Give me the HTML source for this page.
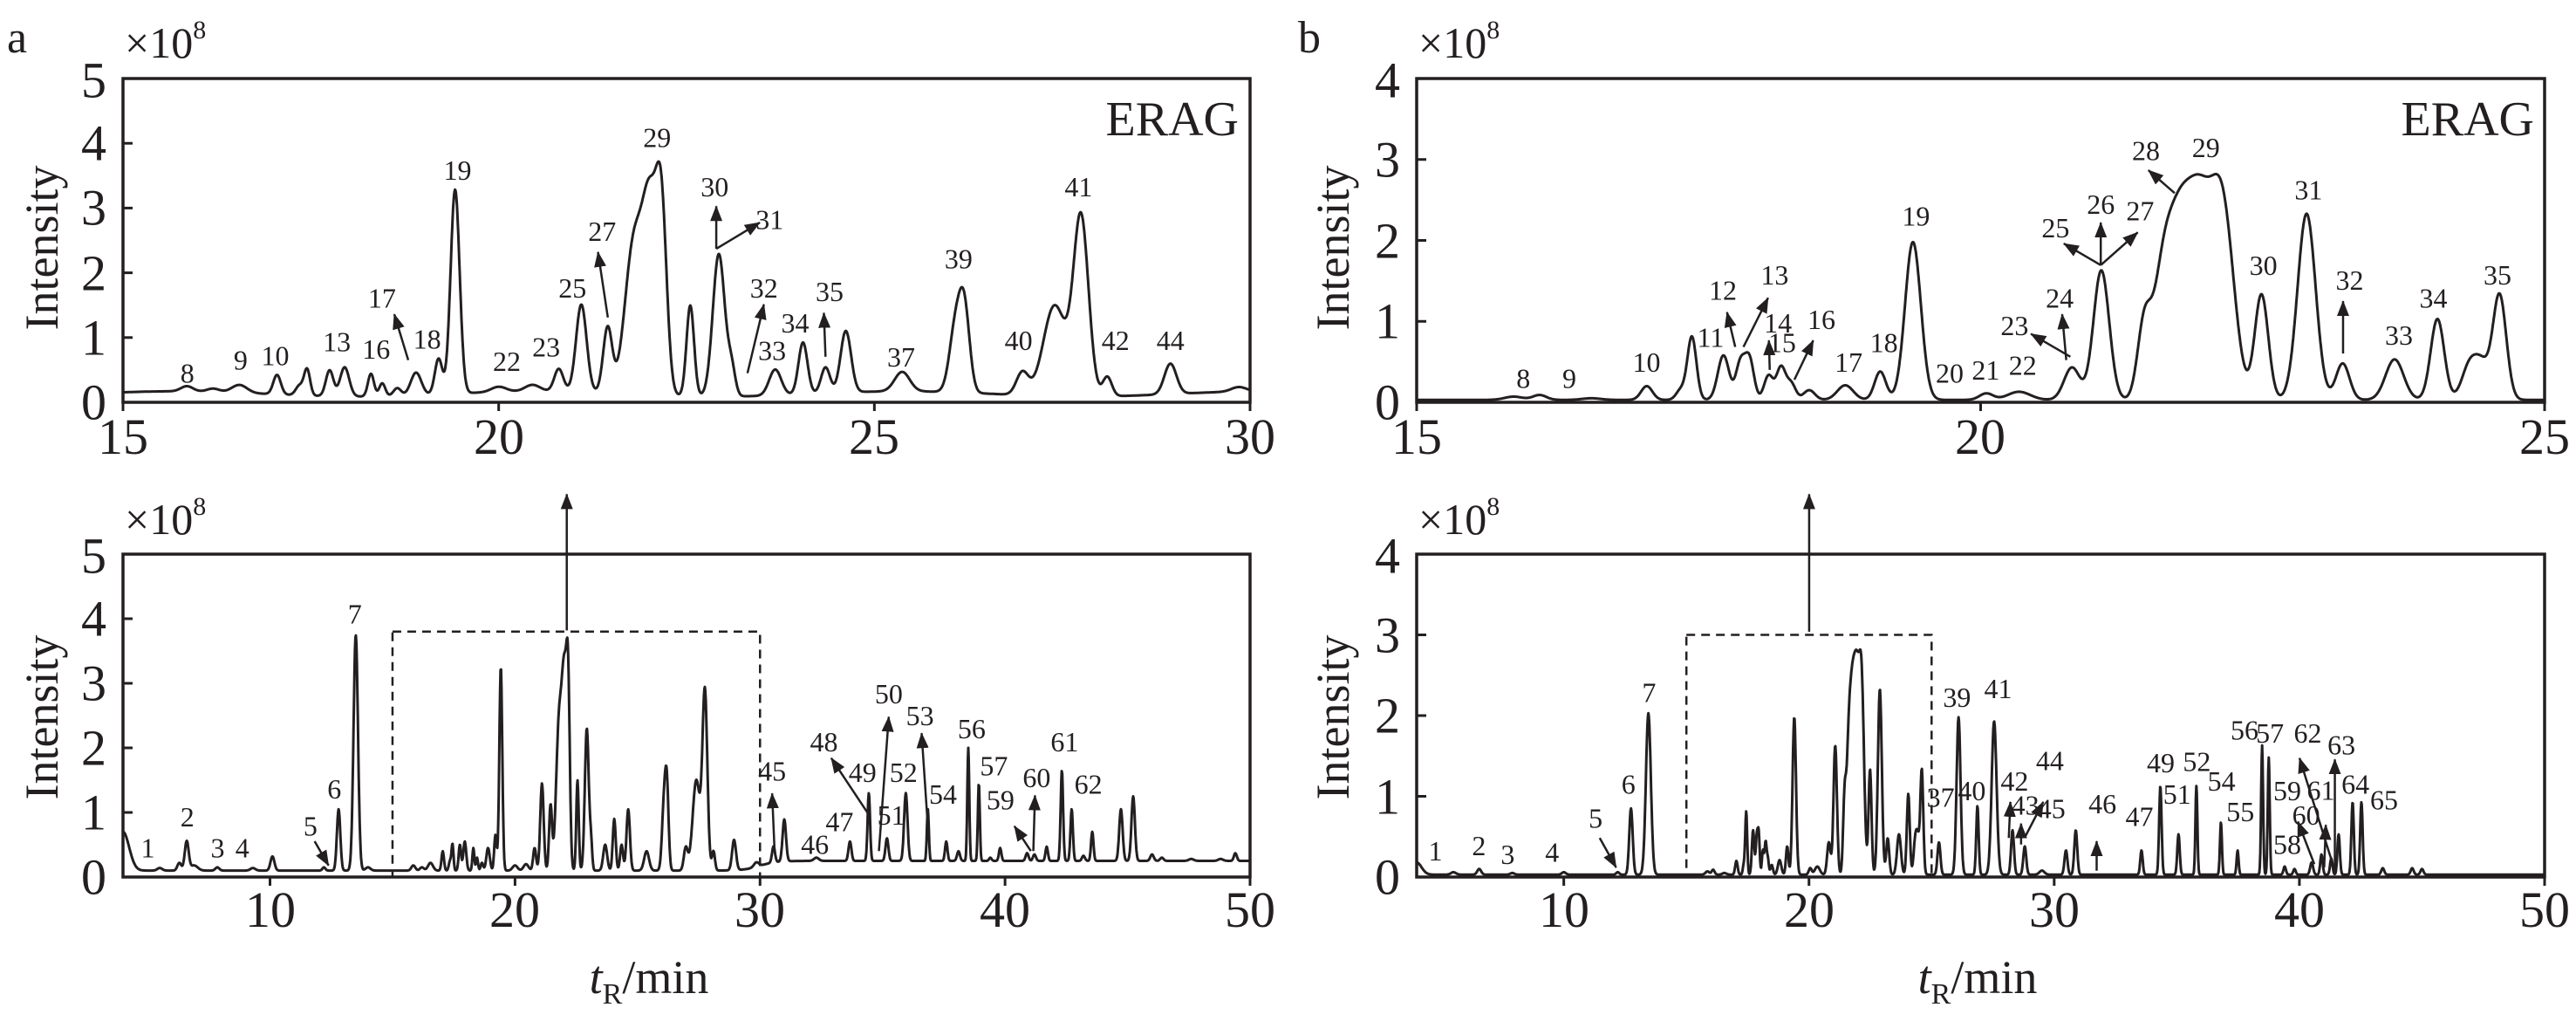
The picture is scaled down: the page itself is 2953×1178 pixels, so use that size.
<!DOCTYPE html>
<html><head><meta charset="utf-8"><style>
html,body{margin:0;padding:0;background:#fff}
svg{display:block}
text{font-family:"Liberation Serif",serif;fill:#231f20}
.tk{font-size:58px}
.pl,.pb{font-size:32px;text-anchor:middle;dominant-baseline:central}
</style></head><body>
<svg id="s" width="2953" height="1178" viewBox="0 0 2953 1178" xmlns="http://www.w3.org/2000/svg">
<defs>
<marker id="ah2" markerWidth="18" markerHeight="14" refX="17" refY="7" orient="auto" markerUnits="userSpaceOnUse" viewBox="0 0 18 14"><path d="M0,0 L18,7 L0,14 z" fill="#231f20"/></marker></defs>
<g id="g"></g>
<text x="8" y="60" style="font-size:52px">a</text>
<text x="1488" y="60" style="font-size:52px">b</text>
<text x="143" y="66" style="font-size:50px">×10<tspan dy="-22" style="font-size:30px">8</tspan></text>
<text x="143" y="612" style="font-size:50px">×10<tspan dy="-22" style="font-size:30px">8</tspan></text>
<text x="1626" y="66" style="font-size:50px">×10<tspan dy="-22" style="font-size:30px">8</tspan></text>
<text x="1626" y="612" style="font-size:50px">×10<tspan dy="-22" style="font-size:30px">8</tspan></text>
<text transform="translate(66,284) rotate(-90)" text-anchor="middle" style="font-size:54px">Intensity</text>
<text transform="translate(66,822) rotate(-90)" text-anchor="middle" style="font-size:54px">Intensity</text>
<text transform="translate(1546,284) rotate(-90)" text-anchor="middle" style="font-size:54px">Intensity</text>
<text transform="translate(1546,822) rotate(-90)" text-anchor="middle" style="font-size:54px">Intensity</text>
<text x="1420" y="155" text-anchor="end" style="font-size:56px">ERAG</text>
<text x="2905" y="155" text-anchor="end" style="font-size:56px">ERAG</text>
<g class="tk" text-anchor="end" dominant-baseline="central">
<text x="122" y="461">0</text><text x="122" y="387">1</text><text x="122" y="313">2</text><text x="122" y="238">3</text><text x="122" y="164">4</text><text x="122" y="92">5</text>
<text x="122" y="1005">0</text><text x="122" y="931">1</text><text x="122" y="857">2</text><text x="122" y="783">3</text><text x="122" y="709">4</text><text x="122" y="637">5</text>
<text x="1605" y="461">0</text><text x="1605" y="368">1</text><text x="1605" y="276">2</text><text x="1605" y="183">3</text><text x="1605" y="92">4</text>
<text x="1605" y="1005">0</text><text x="1605" y="913">1</text><text x="1605" y="820">2</text><text x="1605" y="728">3</text><text x="1605" y="637">4</text>
</g>
<g class="tk" text-anchor="middle">
<text x="141" y="520">15</text><text x="572" y="520">20</text><text x="1002" y="520">25</text><text x="1433" y="520">30</text>
<text x="310" y="1062">10</text><text x="590" y="1062">20</text><text x="871" y="1062">30</text><text x="1152" y="1062">40</text><text x="1433" y="1062">50</text>
<text x="1624" y="520">15</text><text x="2270" y="520">20</text><text x="2917" y="520">25</text>
<text x="1793" y="1062">10</text><text x="2074" y="1062">20</text><text x="2355" y="1062">30</text><text x="2636" y="1062">40</text><text x="2917" y="1062">50</text>
</g>
<text x="744" y="1138" text-anchor="middle" style="font-size:54px"><tspan font-style="italic">t</tspan><tspan dy="12" style="font-size:34px">R</tspan><tspan dy="-12">/min</tspan></text>
<text x="2267" y="1138" text-anchor="middle" style="font-size:54px"><tspan font-style="italic">t</tspan><tspan dy="12" style="font-size:34px">R</tspan><tspan dy="-12">/min</tspan></text>

<g id="la">
<text class="pl" x="228" y="570">8</text><text class="pl" x="293" y="550">9</text><text class="pl" x="335" y="543">10</text><text class="pl" x="410" y="522">13</text><text class="pl" x="458" y="533">16</text><text class="pl" x="465" y="455">17</text><text class="pl" x="520" y="518">18</text><text class="pl" x="557" y="260">19</text><text class="pl" x="617" y="552">22</text><text class="pl" x="665" y="530">23</text><text class="pl" x="697" y="440">25</text><text class="pl" x="733" y="353">27</text><text class="pl" x="800" y="210">29</text><text class="pl" x="870" y="285">30</text><text class="pl" x="937" y="335">31</text><text class="pl" x="930" y="440">32</text><text class="pl" x="940" y="535">33</text><text class="pl" x="968" y="493">34</text><text class="pl" x="1010" y="445">35</text><text class="pl" x="1097" y="545">37</text><text class="pl" x="1167" y="395">39</text><text class="pl" x="1240" y="520">40</text><text class="pl" x="1313" y="285">41</text><text class="pl" x="1358" y="520">42</text><text class="pl" x="1425" y="520">44</text>
<text class="pl" x="180" y="1295">1</text><text class="pl" x="228" y="1248">2</text><text class="pl" x="265" y="1295">3</text><text class="pl" x="295" y="1295">4</text><text class="pl" x="378" y="1262">5</text><text class="pl" x="407" y="1205">6</text><text class="pl" x="432" y="938">7</text><text class="pl" x="940" y="1178">45</text><text class="pl" x="992" y="1290">46</text><text class="pl" x="1022" y="1255">47</text><text class="pl" x="1003" y="1133">48</text><text class="pl" x="1050" y="1180">49</text><text class="pl" x="1082" y="1060">50</text><text class="pl" x="1085" y="1245">51</text><text class="pl" x="1100" y="1180">52</text><text class="pl" x="1120" y="1093">53</text><text class="pl" x="1148" y="1213">54</text><text class="pl" x="1183" y="1113">56</text><text class="pl" x="1210" y="1170">57</text><text class="pl" x="1218" y="1222">59</text><text class="pl" x="1262" y="1188">60</text><text class="pl" x="1296" y="1133">61</text><text class="pl" x="1325" y="1198">62</text>
</g>
<g id="lb">
<text class="pb" x="287" y="578">8</text><text class="pb" x="343" y="578">9</text><text class="pb" x="437" y="553">10</text><text class="pb" x="515" y="515">11</text><text class="pb" x="530" y="443">12</text><text class="pb" x="593" y="420">13</text><text class="pb" x="597" y="493">14</text><text class="pb" x="602" y="523">15</text><text class="pb" x="650" y="488">16</text><text class="pb" x="683" y="553">17</text><text class="pb" x="726" y="523">18</text><text class="pb" x="765" y="330">19</text><text class="pb" x="806" y="570">20</text><text class="pb" x="850" y="565">21</text><text class="pb" x="895" y="558">22</text><text class="pb" x="885" y="497">23</text><text class="pb" x="940" y="455">24</text><text class="pb" x="935" y="348">25</text><text class="pb" x="990" y="312">26</text><text class="pb" x="1038" y="322">27</text><text class="pb" x="1045" y="230">28</text><text class="pb" x="1118" y="225">29</text><text class="pb" x="1188" y="405">30</text><text class="pb" x="1243" y="290">31</text><text class="pb" x="1293" y="428">32</text><text class="pb" x="1353" y="512">33</text><text class="pb" x="1395" y="455">34</text><text class="pb" x="1473" y="420">35</text>
<text class="pb" x="180" y="1300">1</text><text class="pb" x="233" y="1292">2</text><text class="pb" x="268" y="1305">3</text><text class="pb" x="322" y="1302">4</text><text class="pb" x="375" y="1250">5</text><text class="pb" x="415" y="1198">6</text><text class="pb" x="440" y="1058">7</text><text class="pb" x="815" y="1065">39</text><text class="pb" x="865" y="1052">41</text><text class="pb" x="795" y="1218">37</text><text class="pb" x="833" y="1208">40</text><text class="pb" x="885" y="1193">42</text><text class="pb" x="898" y="1230">43</text><text class="pb" x="928" y="1162">44</text><text class="pb" x="930" y="1235">45</text><text class="pb" x="992" y="1228">46</text><text class="pb" x="1037" y="1247">47</text><text class="pb" x="1063" y="1165">49</text><text class="pb" x="1083" y="1213">51</text><text class="pb" x="1107" y="1163">52</text><text class="pb" x="1137" y="1193">54</text><text class="pb" x="1160" y="1240">55</text><text class="pb" x="1165" y="1115">56</text><text class="pb" x="1196" y="1120">57</text><text class="pb" x="1242" y="1120">62</text><text class="pb" x="1217" y="1290">58</text><text class="pb" x="1217" y="1208">59</text><text class="pb" x="1240" y="1245">60</text><text class="pb" x="1258" y="1207">61</text><text class="pb" x="1283" y="1138">63</text><text class="pb" x="1300" y="1198">64</text><text class="pb" x="1335" y="1222">65</text>
</g>
</svg>
<script>
(function(){
var NS="http://www.w3.org/2000/svg",g=document.getElementById('g');
function el(n,a){var e=document.createElementNS(NS,n);for(var k in a)e.setAttribute(k,a[k]);g.appendChild(e);return e;}
[].forEach.call(document.querySelectorAll('.pl'),function(t){t.setAttribute('x',(+t.getAttribute('x'))/1.062);t.setAttribute('y',(+t.getAttribute('y'))/1.333);});
[].forEach.call(document.querySelectorAll('.pb'),function(t){t.setAttribute('x',1476+(+t.getAttribute('x'))/1.062);t.setAttribute('y',(+t.getAttribute('y'))/1.333);});
var A=[[15.85,.08,.08],[16.2,.05,.08],[16.55,.12,.1],[17.05,.3,.05],[17.35,.15,.05],[17.45,.4,.04],[17.75,.4,.05],[17.95,.45,.06],[18.3,.35,.04],[18.45,.2,.04],[18.65,.12,.05],[18.9,.35,.07],[19.2,.55,.05],[19.42,3.15,.06],[20.0,.08,.1],[20.45,.1,.1],[20.8,.35,.06],[21.1,1.35,.07],[21.45,1.0,.06],[21.8,2.3,.12],[22.02,2.7,.1],[22.17,2.45,.07],[22.55,1.4,.05],[22.93,2.2,.08],[23.1,.4,.05],[23.68,.4,.08],[24.05,.8,.06],[24.35,.4,.06],[24.62,.95,.07],[25.37,.3,.1],[26.08,1.0,.08],[26.2,1.2,.07],[26.97,.35,.08],[27.4,1.4,.15],[27.75,2.75,.1],[28.1,.3,.06],[28.94,.47,.08],[29.85,.07,.1]];
var Ax=[[4.0,.6,.25],[5.5,.04,.1],[6.3,.12,.08],[6.6,.45,.08],[6.9,.08,.15],[7.85,.05,.08],[9.3,.04,.1],[10.1,.22,.08],[12.2,.05,.06],[12.8,.95,.07],[13.5,3.65,.09],[14.0,.05,.1],[30.55,.25,.06],[30.99,.65,.07],[32.3,.05,.1],[33.67,.3,.06],[34.44,1.05,.05],[35.18,.35,.06],[35.95,1.05,.07],[36.85,.8,.04],[37.6,.3,.05],[38.1,.15,.06],[38.5,1.75,.04],[38.93,1.2,.04],[39.4,.05,.05],[39.8,.2,.05],[40.9,.12,.06],[41.2,.1,.06],[41.7,.22,.05],[42.32,1.4,.05],[42.72,.8,.05],[43.2,.08,.06],[43.56,.45,.05],[44.73,.8,.07],[45.23,1.0,.07],[46.0,.1,.07],[46.4,.05,.07],[47.6,.03,.1],[48.8,.03,.1],[49.4,.12,.06]];
var B=[[15.86,.04,.08],[16.09,.06,.06],[16.55,.02,.08],[17.04,.17,.05],[17.34,.12,.04],[17.44,.78,.04],[17.72,.55,.05],[17.87,.45,.04],[17.95,.5,.04],[18.12,.3,.04],[18.23,.4,.04],[18.32,.2,.04],[18.48,.12,.05],[18.8,.18,.07],[19.11,.35,.05],[19.4,1.95,.07],[20.05,.08,.06],[20.34,.1,.1],[20.81,.4,.07],[21.07,1.6,.07],[21.45,.9,.06],[21.6,1.0,.08],[21.75,2.0,.11],[21.95,2.1,.11],[22.15,2.2,.1],[22.49,1.3,.06],[22.89,2.3,.08],[23.21,.45,.06],[23.67,.5,.08],[24.05,1.0,.06],[24.34,.45,.07],[24.45,.35,.06],[24.6,1.3,.06]];
var Bx=[[4.0,.15,.2],[5.5,.03,.1],[6.55,.07,.08],[7.9,.02,.08],[10.0,.03,.08],[12.2,.03,.06],[12.74,.82,.07],[13.45,2.0,.1],[25.3,.4,.06],[26.1,1.95,.08],[26.87,.85,.05],[27.55,1.9,.1],[28.3,.55,.06],[28.8,.35,.06],[29.5,.05,.1],[30.48,.3,.06],[30.88,.55,.06],[33.56,.3,.05],[34.33,1.1,.05],[35.07,.5,.05],[35.8,1.1,.04],[36.8,.65,.04],[37.48,.3,.04],[38.48,1.6,.04],[38.75,1.45,.04],[39.4,.1,.05],[39.8,.07,.05],[40.5,.15,.06],[40.9,.25,.05],[41.3,.2,.05],[41.6,.5,.05],[42.17,.9,.05],[42.53,.9,.05],[43.4,.08,.06],[44.6,.08,.06],[45.0,.07,.06]];
function f(pk,t){var s=0;for(var i=0;i<pk.length;i++){var d=(t-pk[i][0])/pk[i][2];if(d*d<40)s+=pk[i][1]*Math.exp(-d*d/2);}return s;}
function panel(P){
  var X=function(t){return P.x0+(t-P.t0)/(P.t1-P.t0)*(P.x1-P.x0);},Y=function(v){return P.yz-v/P.vm*(P.yz-P.yt);};
  var d='',st=(P.t1-P.t0)/2400;
  for(var t=P.t0;t<=P.t1+1e-9;t+=st){var v=P.base(t)+f(P.pk,t);d+=(d?'L':'M')+X(t).toFixed(1)+','+Y(v).toFixed(1);}
  el('path',{d:d,fill:'none',stroke:'#231f20','stroke-width':3,'stroke-linejoin':'round'});
  el('rect',{x:P.x0,y:P.yt,width:P.x1-P.x0,height:P.yz-P.yt,fill:'none',stroke:'#231f20','stroke-width':3.5});
  for(var v=1;v<P.vm;v++)el('line',{x1:P.x0,x2:P.x0+11,y1:Y(v),y2:Y(v),stroke:'#231f20','stroke-width':3});
  P.xt.forEach(function(t){el('line',{x1:X(t),x2:X(t),y1:P.yz,y2:P.yz+10,stroke:'#231f20','stroke-width':3});});
  if(P.box){el('rect',{x:X(P.box[0]),y:Y(P.box[2]),width:X(P.box[1])-X(P.box[0]),height:P.yz-Y(P.box[2]),fill:'none',stroke:'#231f20','stroke-width':2.5,'stroke-dasharray':'10,7'});}
}
var aT=function(t){return 0.13+0.04*Math.sin(t*1.3);};
panel({x0:141,x1:1433,t0:15,t1:30,yz:461,yt:90,vm:5,pk:A,base:aT,xt:[15,20,25,30]});
panel({x0:141,x1:1433,t0:4,t1:50,yz:1005,yt:635,vm:5,pk:A.concat(Ax),base:function(t){return 0.1+0.15/(1+Math.exp(-(t-30)*3));},xt:[10,20,30,40,50],box:[15,30,3.8]});
panel({x0:1624,x1:2917,t0:15,t1:25,yz:461,yt:90,vm:4,pk:B,base:function(){return 0.03;},xt:[15,20,25]});
panel({x0:1624,x1:2917,t0:4,t1:50,yz:1005,yt:635,vm:4,pk:B.concat(Bx),base:function(){return 0.03;},xt:[10,20,30,40,50],box:[15,25,3.0]});
function arr(o,x1,y1,x2,y2){el('line',{x1:o+x1/1.062,y1:y1/1.333,x2:o+x2/1.062,y2:y2/1.333,stroke:'#231f20','stroke-width':2.5,'marker-end':'url(#ah2)'});}
var aa=[[497,550,480,480],[740,485,728,385],[872,380,872,315],[872,380,925,340],[910,570,930,465],[1005,545,1003,478],
[383,1285,400,1322],[943,1300,940,1212],[1058,1245,1012,1158],[1070,1300,1082,1095],[1130,1270,1122,1120],[1255,1300,1235,1262],[1258,1300,1260,1215],[690,963,690,755]];
aa.forEach(function(a){arr(0,a[0],a[1],a[2],a[3]);});
var bb=[[545,530,535,477],[555,530,585,455],[587,565,586,520],[617,580,640,520],[953,545,905,510],[948,550,943,480],[990,405,945,372],[990,405,990,340],[990,405,1035,355],[1080,295,1048,260],[1285,540,1285,460],
[380,1280,400,1325],[878,1280,880,1225],[893,1290,893,1258],[898,1278,920,1225],[985,1330,985,1285],[1250,1320,1230,1255],[1262,1325,1264,1260],[1275,1330,1232,1158],[1275,1330,1275,1160],[635,965,635,755]];
bb.forEach(function(a){arr(1476,a[0],a[1],a[2],a[3]);});
})();
</script>
</body></html>
